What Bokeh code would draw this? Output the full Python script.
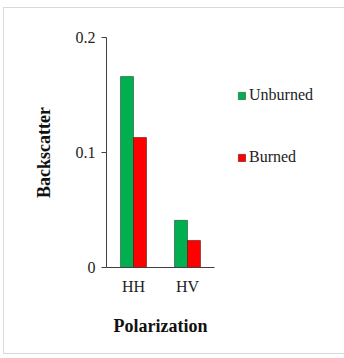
from bokeh.plotting import figure
from bokeh.models import ColumnDataSource, FactorRange, FixedTicker, Legend, LegendItem
from bokeh.transform import dodge
from bokeh.embed import file_html
from bokeh.resources import INLINE

categories = ["HH", "HV"]
unburned = [0.166, 0.041]
burned = [0.113, 0.0235]
y_ticks = [0, 0.1, 0.2]
y_tick_labels = ["0", "0.1", "0.2"]

src = ColumnDataSource(dict(cat=categories, unburned=unburned, burned=burned))

FONT = "Liberation Serif"

p = figure(x_range=FactorRange(*categories, range_padding=0), y_range=(0, 0.2),
           width=336, height=345, output_backend="svg", toolbar_location=None,
           min_border_left=102, min_border_right=126, min_border_top=29,
           min_border_bottom=86)
p.frame_width = 108
p.frame_height = 230
p.margin = (8, 4, 5, 4)
p.styles = {"outline": "1px solid #d9d9d9"}

r1 = p.vbar(x=dodge("cat", -0.12, range=p.x_range), top="unburned", width=0.24,
            source=src, fill_color="#00B050", line_color="#1a4d2e", line_width=0.6)
r2 = p.vbar(x=dodge("cat", 0.12, range=p.x_range), top="burned", width=0.24,
            source=src, fill_color="#FF0000", line_color="#5a1010", line_width=0.6)

p.grid.visible = False
p.outline_line_color = None
p.background_fill_color = "white"
p.border_fill_color = "white"

p.yaxis.ticker = FixedTicker(ticks=y_ticks)
p.yaxis.major_label_overrides = {t: l for t, l in zip(y_ticks, y_tick_labels)}
p.yaxis.minor_tick_line_color = None
p.yaxis.major_tick_out = 5
p.yaxis.major_tick_in = 0
p.yaxis.major_label_standoff = 6
p.yaxis.axis_label = "Backscatter"
p.yaxis.axis_label_standoff = 19
p.xaxis.axis_label = "Polarization"
p.xaxis.axis_label_standoff = 18
p.xaxis.major_label_standoff = 4

for ax in (p.xaxis, p.yaxis):
    ax.axis_line_color = "#404040"
    ax.major_label_text_font = FONT
    ax.major_label_text_font_size = "16px"
    ax.major_label_text_color = "#222222"
    ax.axis_label_text_font = FONT
    ax.axis_label_text_font_size = "18px"
    ax.axis_label_text_font_style = "bold"
    ax.axis_label_text_color = "#111111"
p.yaxis.major_tick_line_color = "#404040"
p.xaxis.major_tick_line_color = None

legend = Legend(items=[LegendItem(label="Unburned", renderers=[r1]),
                       LegendItem(label="Burned", renderers=[r2])],
                location=(23, 101), orientation="vertical",
                label_text_font=FONT, label_text_font_size="16px",
                label_text_color="#222222",
                glyph_width=9, glyph_height=9, spacing=44,
                label_standoff=3, border_line_color=None,
                background_fill_alpha=0, padding=0, margin=0)
p.add_layout(legend, "right")

open("out.html", "w").write(file_html(p, INLINE))
